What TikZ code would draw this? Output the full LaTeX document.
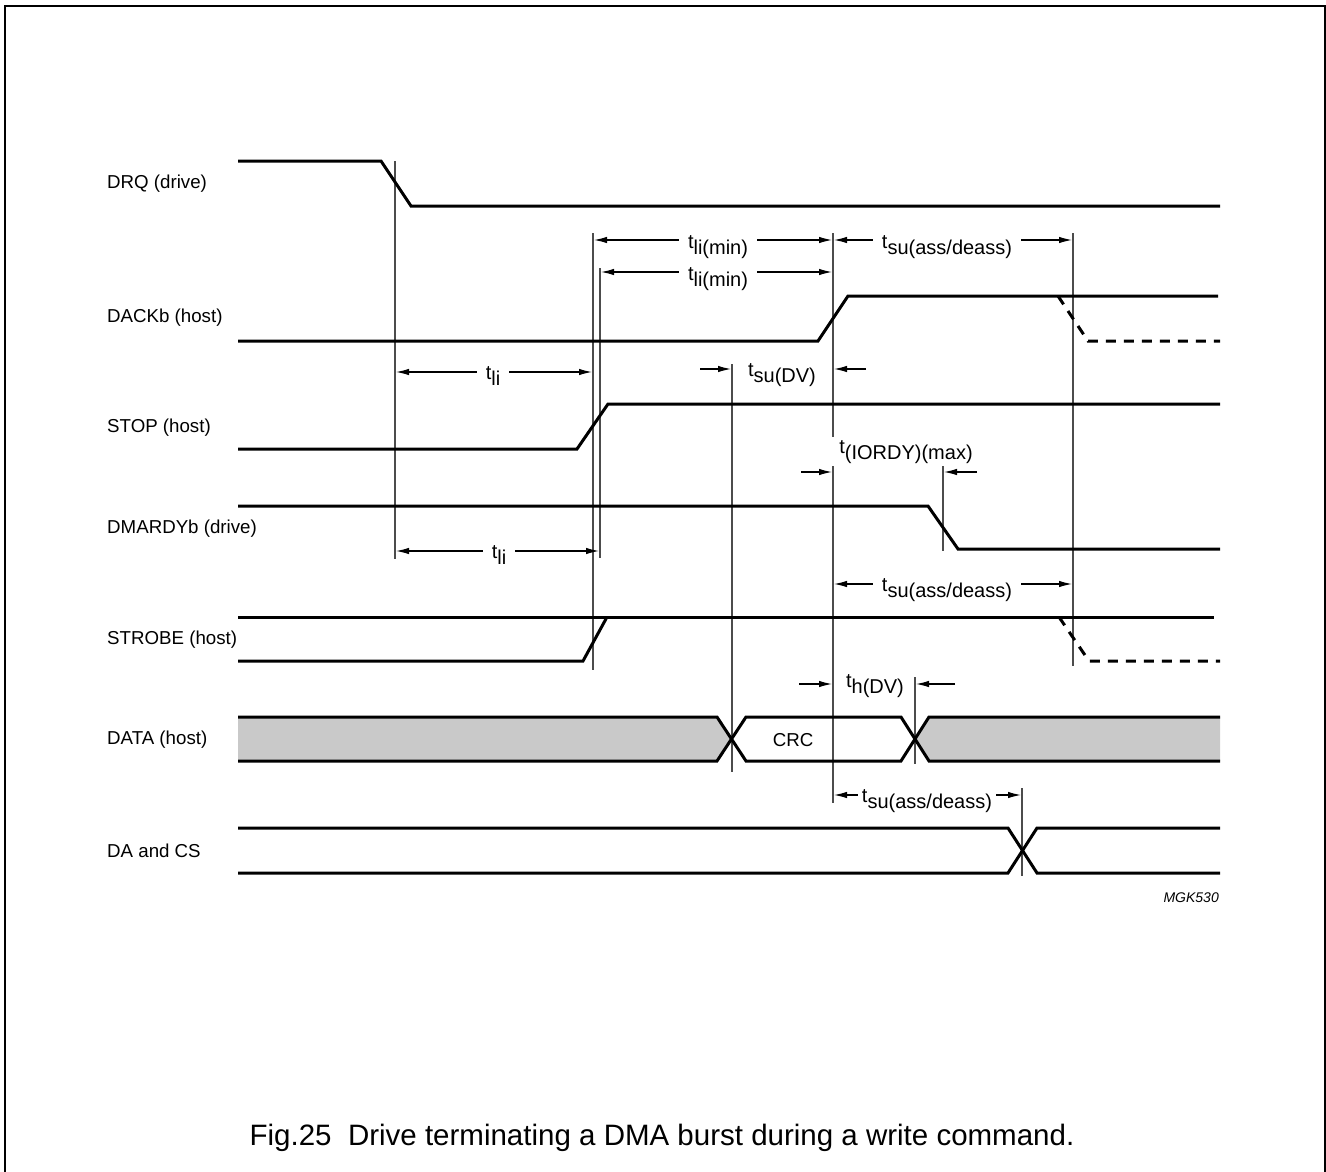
\documentclass[tikz,border=0pt]{standalone}
\usepackage{fontspec}
\setmainfont{Liberation Sans}
\usetikzlibrary{arrows.meta}
\newcommand\tsb[1]{t\raisebox{-6pt}{#1}}
\begin{document}
\begin{tikzpicture}[x=1pt,y=-1pt,
  frame/.style={line width=2pt},
  sig/.style={line width=3pt, line join=miter},
  dsig/.style={sig, dash pattern=on 10pt off 8pt},
  vline/.style={line width=1.2pt, draw=black!70},
  tip/.tip={Latex[length=13pt,width=6.5pt]},
  dim/.style={line width=1.2pt, {tip}-{tip}},
  arr/.style={line width=1.2pt, -{tip}},
  lab/.style={font=\fontsize{18.7}{20}\selectfont, anchor=west, inner sep=0pt},
  ann/.style={font=\fontsize{20}{22}\selectfont, anchor=base, fill=white, inner xsep=9pt, inner ysep=3pt},
  busfill/.style={fill=black!21},
]
\useasboundingbox (0,0) rectangle (1326,1172);
\draw[frame] (5,1172) -- (5,6) -- (1325,6) -- (1325,1172);

% signal labels
\node[lab] (lDRQ)  at (107,184) {DRQ (drive)};
\node[lab] (lDACK) at (107,318) {DACKb (host)};
\node[lab] (lSTOP) at (107,428) {STOP (host)};
\node[lab] (lDMA)  at (107,529) {DMARDYb (drive)};
\node[lab] (lSTR)  at (107,640) {STROBE (host)};
\node[lab] (lDATA) at (107,740) {DATA (host)};
\node[lab] (lDA)   at (107,851) {DA and CS};

% DATA bus fills
\fill[busfill] (238,717) -- (717,717) -- (731.5,739) -- (717,761) -- (238,761) -- cycle;
\fill[busfill] (1220,717) -- (929,717) -- (915,739) -- (929,761) -- (1220,761) -- cycle;

% vertical reference lines
\draw[vline] (395,161) -- (395,559);
\draw[vline] (593,233) -- (593,670);
\draw[vline] (600,268) -- (600,558);
\draw[vline] (732,364) -- (732,772);
\draw[vline] (833,233) -- (833,803);
\draw[vline] (943,463) -- (943,551);
\draw[vline] (1073,233) -- (1073,666);
\draw[vline] (915,677) -- (915,764);
\draw[vline] (1022,788) -- (1022,876);

% signals
\draw[sig] (238,161) -- (381,161) -- (411,206) -- (1220,206);
\draw[sig] (238,341) -- (818,341) -- (848,296) -- (1218,296);
\draw[dsig] (1058,296) -- (1088,341) -- (1220,341);
\draw[sig] (238,449) -- (577,449) -- (608,404) -- (1220,404);
\draw[sig] (238,506) -- (928,506) -- (958,549) -- (1220,549);
\draw[sig] (238,661) -- (583,661) -- (607,617);
\draw[sig] (238,617) -- (1214,617);
\draw[dsig] (1059,617) -- (1089,661) -- (1220,661);
\draw[sig] (238,717) -- (717,717) -- (746,761) -- (901,761) -- (929,717) -- (1220,717);
\draw[sig] (238,761) -- (717,761) -- (746,717) -- (901,717) -- (929,761) -- (1220,761);
\draw[sig] (238,828) -- (1008,828) -- (1037,873) -- (1220,873);
\draw[sig] (238,873) -- (1008,873) -- (1037,828) -- (1220,828);
\node[font=\fontsize{18.7}{20}\selectfont] (crc) at (793,740) {CRC};

% dimension arrows
\draw[dim] (594,240) -- (832,240);
\node[ann] (a1) at (718,248) {\tsb{li(min)}};
\draw[dim] (834,240) -- (1072,240);
\node[ann] (a2) at (947,248) {\tsb{su(ass/deass)}};
\draw[dim] (601,272) -- (832,272);
\node[ann] (a3) at (718,280) {\tsb{li(min)}};
\draw[dim] (396,372) -- (592,372);
\node[ann] (a4) at (493,379) {\tsb{li}};
\draw[arr] (700,369) -- (731,369);
\draw[arr] (866,369) -- (834,369);
\node[ann] (a5) at (782,376) {\tsb{su(DV)}};
\draw[arr] (801,472) -- (832,472);
\draw[arr] (977,472) -- (944,472);
\node[ann] (a6) at (906,453) {\tsb{(IORDY)(max)}};
\draw[dim] (396,551) -- (599,551);
\node[ann] (a7) at (499,558) {\tsb{li}};
\draw[dim] (834,584) -- (1072,584);
\node[ann] (a8) at (947,591) {\tsb{su(ass/deass)}};
\draw[arr] (799,684) -- (832,684);
\draw[arr] (955,684) -- (916,684);
\node[ann] (a9) at (875,687) {\tsb{h(DV)}};
\draw[dim] (834,795) -- (1021,795);
\node[ann, inner xsep=4pt] (a10) at (927,802) {\tsb{su(ass/deass)}};

\node[font=\fontsize{14}{16}\selectfont\itshape, anchor=east, inner sep=0pt] (mgk) at (1219,898) {MGK530};
\node[font=\fontsize{29.5}{32}\selectfont, inner sep=0pt] (cap) at (662,1138) {Fig.25\ \ Drive terminating a DMA burst during a write command.};
\end{tikzpicture}
\end{document}
